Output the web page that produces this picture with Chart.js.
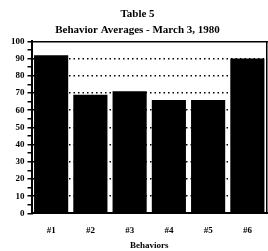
<!DOCTYPE html>
<html>
<head>
<meta charset="utf-8">
<script src="https://cdn.jsdelivr.net/npm/chart.js@4/dist/chart.umd.min.js"></script>
<style>
  html, body { margin: 0; padding: 0; background: #fff; }
  #wrap { width: 268px; height: 251px; }
</style>
</head>
<body>
<div id="wrap"><canvas id="graf"></canvas></div>
<script>
// data
const behaviors = ['#1', '#2', '#3', '#4', '#5', '#6'];
const averages = [92, 69, 71, 66, 66, 90];
const yTicks = [0, 10, 20, 30, 40, 50, 60, 70, 80, 90, 100];

const font = { family: 'Liberation Serif', weight: 'bold', size: 9 };

new Chart(document.getElementById('graf').getContext('2d'), {
    type: 'bar',
    data: {
        labels: behaviors,
        datasets: [{
            data: averages,
            backgroundColor: '#000',
            borderWidth: 0,
            barPercentage: 0.87,
            categoryPercentage: 1
        }]
    },
    options: {
        responsive: true,
        maintainAspectRatio: false,
        animation: false,
        devicePixelRatio: 1,
        layout: { padding: { left: 8, right: 1, top: 0, bottom: 0 } },
        plugins: {
            legend: { display: false },
            tooltip: { enabled: false },
            title: {
                display: true,
                text: 'Table 5',
                color: '#000',
                font: { family: 'Liberation Serif', weight: 'bold', size: 11 },
                padding: { top: 8, bottom: 2 }
            },
            subtitle: {
                display: true,
                text: 'Behavior Averages - March 3, 1980',
                color: '#000',
                font: { family: 'Liberation Serif', weight: 'bold', size: 11 },
                padding: { top: 0, bottom: 5 }
            }
        },
        scales: {
            x: {
                grid: { display: false },
                border: { color: '#000', width: 2 },
                ticks: { color: '#000', font: font, padding: 4 },
                title: { display: true, text: 'Behaviors', color: '#000', font: font, padding: { top: 0, bottom: 0 } }
            },
            xTop: {
                display: true,
                position: 'top',
                grid: { display: true, drawOnChartArea: false, drawTicks: false },
                ticks: { display: false },
                border: { display: true, color: '#000', width: 1.5 }
            },
            y: {
                min: 0,
                max: 100,
                afterBuildTicks: axis => {
                    const t = [];
                    yTicks.forEach((v, i) => {
                        t.push({ value: v });
                        if (i < yTicks.length - 1) t.push({ value: v + 5 });
                    });
                    axis.ticks = t;
                },
                grid: {
                    color: c => (c.tick && c.tick.value % 10 === 0 && c.tick.value > 0 && c.tick.value < 100) ? '#000' : 'rgba(0,0,0,0)',
                    tickColor: '#000',
                    tickLength: 4,
                    lineWidth: 1.5
                },
                border: { color: '#000', width: 2, dash: [1.5, 3] },
                ticks: {
                    color: '#000',
                    font: font,
                    padding: 3,
                    autoSkip: false,
                    callback: v => (v % 10 === 0 ? v : '')
                }
            },
            yRight: {
                display: true,
                position: 'right',
                min: 0,
                max: 100,
                grid: { display: true, drawOnChartArea: false, drawTicks: false },
                ticks: { display: false },
                border: { display: true, color: '#000', width: 1.5 }
            }
        }
    }
});
</script>
</body>
</html>
